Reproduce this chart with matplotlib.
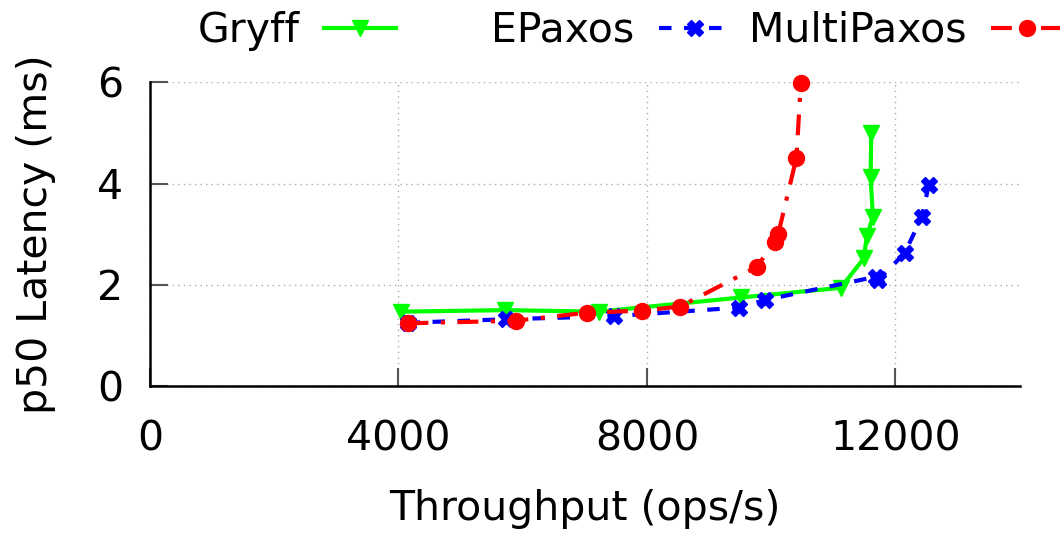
import matplotlib
matplotlib.use('Agg')
import matplotlib.pyplot as plt
from matplotlib.legend import Legend

# throughput (ops/s) and p50 latency (ms)
gryff_x = [4040, 5714, 7223, 9514, 11119, 11488, 11541, 11637, 11600, 11610]
gryff_y = [1.47, 1.50, 1.47, 1.75, 1.94, 2.52, 2.97, 3.34, 4.12, 4.99]

epaxos_x = [4146, 5726, 7464, 9481, 9898, 11690, 11717, 12146, 12424, 12536]
epaxos_y = [1.25, 1.32, 1.38, 1.55, 1.70, 2.16, 2.09, 2.62, 3.34, 3.97]

mpaxos_x = [4146, 5886, 7036, 7918, 8534, 9764, 10059, 10112, 10406, 10476]
mpaxos_y = [1.24, 1.29, 1.45, 1.49, 1.57, 2.35, 2.85, 3.00, 4.51, 5.99]

xticks = [0, 4000, 8000, 12000]
yticks = [0, 2, 4, 6]

FS = 29.5
plt.rcParams['font.family'] = 'DejaVu Sans'
fig = plt.figure(figsize=(10.6, 5.34), dpi=100)
ax = fig.add_axes([0.1415, 0.277, 0.8205, 0.569])

l1, = ax.plot(gryff_x, gryff_y, color='#00ff00', lw=3, ls='-', marker='v',
              ms=12, mfc='#00ff00', mec='#00ff00', label='Gryff', clip_on=False, zorder=3)
l2, = ax.plot(epaxos_x, epaxos_y, color='#0000ff', lw=3, ls=(0, (3, 3)), marker='X',
              ms=11, label='EPaxos', clip_on=False, zorder=3)
l3, = ax.plot(mpaxos_x, mpaxos_y, color='#ff0000', lw=3, ls=(0, (5, 3, 1, 3)), marker='o',
              ms=11.5, label='MultiPaxos', clip_on=False, zorder=4)

ax.set_xlim(0, 14000)
ax.set_ylim(0, 6)
ax.set_xticks(xticks)
ax.set_yticks(yticks)
ax.tick_params(direction='in', length=13, width=1.5, color='#555555', labelsize=FS)
ax.tick_params(axis='x', pad=24)
ax.tick_params(axis='y', pad=19)
ax.spines['top'].set_visible(False)
ax.spines['right'].set_visible(False)
ax.spines['left'].set_linewidth(1.8)
ax.spines['bottom'].set_linewidth(1.8)
ax.grid(True, ls=(0, (1, 3)), color='#aaaaaa', lw=1)
ax.set_axisbelow(True)

ax.set_xlabel('Throughput (ops/s)', fontsize=FS, labelpad=21)
ax.set_ylabel('p50 Latency (ms)', fontsize=FS, labelpad=30)

# gnuplot-style key: right-justified label followed by the sample
for h, xr in zip([l1, l2, l3], [396, 731, 1063]):
    leg = Legend(fig, [h], [h.get_label()], loc='center right',
                 bbox_to_anchor=(xr / 1060, 1 - 31 / 534), bbox_transform=fig.transFigure,
                 frameon=False, markerfirst=False, fontsize=FS, handlelength=1.75,
                 handletextpad=0.6, borderpad=0, borderaxespad=0)
    fig.add_artist(leg)

fig.savefig('out.png', dpi=100)
